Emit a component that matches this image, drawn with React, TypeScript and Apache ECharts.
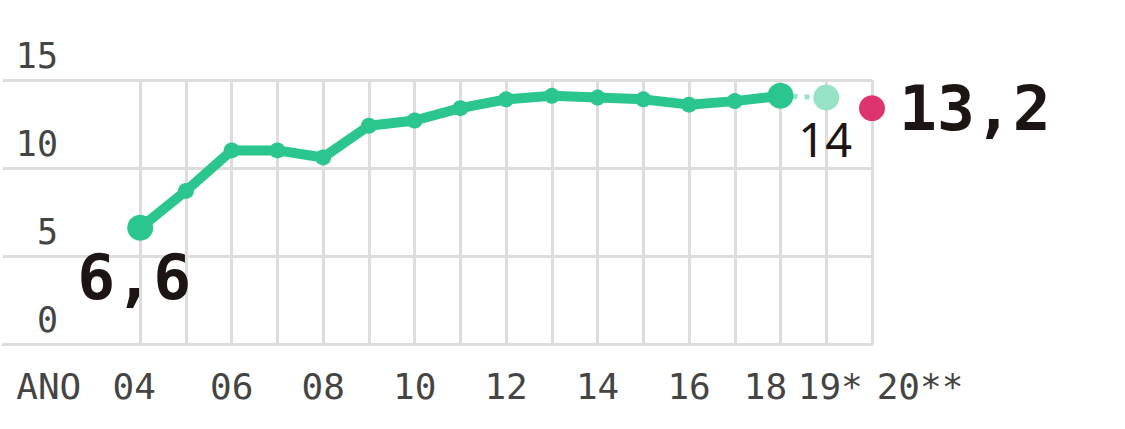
import React, { useEffect, useRef } from "react";
import * as echarts from "echarts";

// Categories on the x axis (years 2001–2020; only 2004 onward carry data)
const years = ["2001","2002","2003","2004","2005","2006","2007","2008","2009","2010","2011","2012","2013","2014","2015","2016","2017","2018","2019","2020"];
// Tick labels shown under the axis (empty = no label)
const tickLabels = ["", "ANO", "", "04", "", "06", "", "08", "", "10", "", "12", "", "14", "", "16", "", "18", "19*", "20**"];
// Observed series 2004–2018
const observedYears = ["2004","2005","2006","2007","2008","2009","2010","2011","2012","2013","2014","2015","2016","2017","2018"];
const observedValues = [6.6, 8.7, 11.0, 11.0, 10.6, 12.4, 12.7, 13.4, 13.9, 14.1, 14.0, 13.9, 13.6, 13.8, 14.1];
// Estimate 2019 and projection 2020
const estimateYear = "2019";
const estimateValue = 14.0;
const projectionYear = "2020";
const projectionValue = 13.4;
// Annotation texts
const firstLabel = "6,6";
const estimateLabel = "14";
const projectionLabel = "13,2";
const yTicks = [0, 5, 10, 15];

const GREEN = "#2bc68d";
const LIGHT = "#96e2c5";
const PINK = "#dd3470";
const GRID = "#dddddd";
const MONO = "'DejaVu Sans Mono', monospace";
const AXIS_TEXT = "#444444";

// label nudges (rich style names per tick index)
const labelStyleFor: Record<number, string> = { 3: "l12", 17: "l30", 18: "r8", 19: "r96" };

export default function App() {
  const ref = useRef<HTMLDivElement>(null);
  useEffect(() => {
    if (!ref.current) return;
    const chart = echarts.init(ref.current, undefined, { renderer: "svg" });
    const obsData = years.map((y) => {
      const i = observedYears.indexOf(y);
      if (i < 0) return null;
      const isEnd = i === 0 || i === observedYears.length - 1;
      const item: any = { value: observedValues[i], symbolSize: isEnd ? 26 : 16 };
      if (i === 0) {
        item.label = {
          show: true,
          formatter: firstLabel,
          position: "bottom",
          distance: 5,
          offset: [-6, 0],
          fontFamily: MONO,
          fontWeight: "bold",
          fontSize: 63,
          color: "#1c1513",
        };
      }
      return item;
    });
    const dashData = years.map((y) =>
      y === "2018" ? observedValues[observedValues.length - 1] : y === estimateYear ? estimateValue : null
    );
    const estData = years.map((y) =>
      y === estimateYear
        ? {
            value: estimateValue,
            label: {
              show: true,
              formatter: estimateLabel,
              position: "bottom",
              distance: 5,
              offset: [-1, 0],
              fontFamily: "'Noto Sans', sans-serif",
              fontSize: 47,
              color: "#1c1513",
            },
          }
        : null
    );
    const projData = years.map((y) =>
      y === projectionYear
        ? {
            value: projectionValue,
            label: {
              show: true,
              formatter: projectionLabel,
              position: "right",
              distance: 14,
              fontFamily: MONO,
              fontWeight: "bold",
              fontSize: 63,
              color: "#1c1513",
            },
          }
        : null
    );
    const base = { fontFamily: MONO, fontSize: 36, color: AXIS_TEXT };
    chart.setOption({
      animation: false,
      grid: { left: 2, right: 253, top: 80, bottom: 85 },
      xAxis: {
        type: "category",
        data: years,
        boundaryGap: false,
        axisLine: { show: true, lineStyle: { color: GRID, width: 3 } },
        axisTick: { show: false },
        splitLine: {
          show: true,
          interval: (index: number) => index >= 3,
          lineStyle: { color: GRID, width: 3 },
        },
        axisLabel: {
          interval: 0,
          margin: 24,
          ...base,
          formatter: (_v: string, idx: number) => {
            const t = tickLabels[idx];
            const s = labelStyleFor[idx];
            return s && t ? "{" + s + "|" + t + "}" : t;
          },
          rich: {
            l12: { ...base, padding: [0, 12, 0, 0] },
            l30: { ...base, padding: [0, 30, 0, 0] },
            r8: { ...base, padding: [0, 0, 0, 8] },
            r96: { ...base, padding: [0, 0, 0, 96] },
          },
        },
      },
      yAxis: {
        type: "value",
        min: yTicks[0],
        max: yTicks[yTicks.length - 1],
        interval: 5,
        axisLine: { show: false },
        axisTick: { show: false },
        splitLine: { show: true, lineStyle: { color: GRID, width: 3 } },
        axisLabel: {
          inside: true,
          margin: 55,
          align: "right",
          verticalAlign: "bottom",
          lineHeight: 36,
          padding: [0, 0, 6, 0],
          fontFamily: MONO,
          fontSize: 35,
          color: AXIS_TEXT,
        },
      },
      series: [
        {
          type: "line",
          data: dashData,
          symbol: "none",
          lineStyle: { color: LIGHT, width: 5, type: [5, 7] },
          z: 2,
        },
        {
          type: "line",
          data: obsData,
          symbol: "circle",
          itemStyle: { color: GREEN },
          lineStyle: { color: GREEN, width: 10 },
          z: 3,
        },
        {
          type: "line",
          data: estData,
          symbol: "circle",
          symbolSize: 26,
          itemStyle: { color: LIGHT },
          z: 3,
        },
        {
          type: "line",
          data: projData,
          symbol: "circle",
          symbolSize: 26,
          itemStyle: { color: PINK },
          z: 3,
        },
      ],
    });
    return () => chart.dispose();
  }, []);
  return <div ref={ref} style={{ position: "absolute", left: 0, top: 0, width: 1125, height: 429 }} />;
}
